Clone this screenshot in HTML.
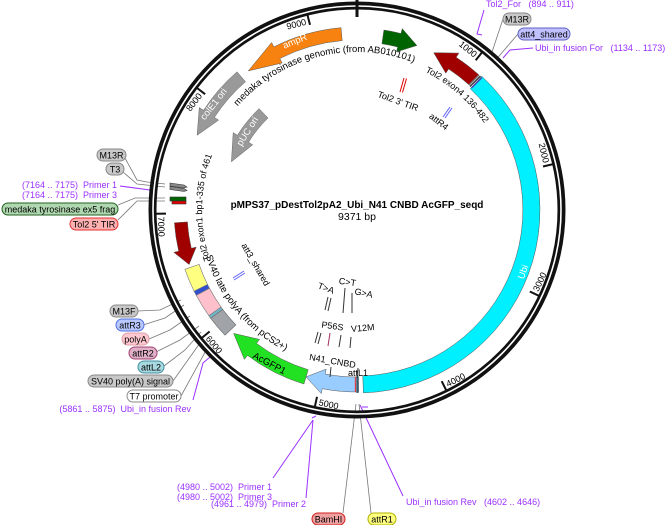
<!DOCTYPE html>
<html><head><meta charset="utf-8"><style>
html,body{margin:0;padding:0;background:#fff;}
svg{display:block;font-family:"Liberation Sans",Arial,sans-serif;}
svg text{white-space:pre;}
.l{font-size:9px;fill:#000;}
.p{font-size:9px;fill:#9b30ff;}
.t{font-size:9.5px;fill:#000;}
.w{font-size:9.5px;fill:#fff;}
</style></head><body>
<svg width="669" height="525" viewBox="0 0 669 525" xmlns="http://www.w3.org/2000/svg" xml:space="preserve">
<defs>
<path id="pMed" d="M229.2,117.1 A158,158 0 0 1 426.3,68.0"/>
<path id="pEx4" d="M412.2,66.2 A154,154 0 0 1 491.7,135.3"/>
<path id="pEx1" d="M215.4,273.0 A155,155 0 0 1 217.7,142.1"/>
<path id="pSV" d="M202.5,242.9 A158,158 0 0 0 297.8,356.5"/>
</defs>

<!-- leader lines -->
<g stroke="#777" stroke-width="0.8" fill="none">
<polyline points="125,158 137,180 147,182 165,184"/>
<polyline points="123,172 137,184 165,187"/>
<polyline points="118,205 135,198 165,198"/>
<polyline points="118,220 137,201 165,201"/>
<polyline points="138,311 160,310 181,300"/>
<polyline points="143,325 165,318 184,305"/>
<polyline points="149,339 170,330 190,316"/>
<polyline points="156,352 180,340 199,326"/>
<polyline points="164,366 185,350 201,332"/>
<polyline points="173,381 200,343"/>
<polyline points="181,396 209,345"/>
<polyline points="356,404 343,513"/>
<polyline points="359,404 371,513"/>
<polyline points="503,19 490,58"/>
<polyline points="518,34 494,62"/>
</g>
<g stroke="#9b30ff" stroke-width="1" fill="none">
<polyline points="120,186 150,190 155,191"/>
<polyline points="193,400 203,363 210,357"/>
<polyline points="273,478 313,420"/>
<polyline points="306,498 313,420"/>
<polyline points="360,405 403,496"/>
<polyline points="484,10 477,34 482,35"/>
<polyline points="533,48 510,50 503,58"/>
<polyline points="312,418 316,416"/>
<polyline points="362,407 368,407"/>
</g>

<!-- ring -->
<circle cx="357" cy="210" r="204.5" fill="none" stroke="#111" stroke-width="8"/>
<circle cx="357" cy="210" r="204.0" fill="none" stroke="#fff" stroke-width="1.6"/>
<line x1="357" y1="0" x2="357" y2="17" stroke="#111" stroke-width="3"/>
<g stroke="#111" stroke-width="2">
<line x1="482.5" y1="51.7" x2="475.7" y2="60.3"/>
<line x1="553.7" y1="164.0" x2="543.0" y2="166.5"/>
<line x1="539.7" y1="296.2" x2="529.8" y2="291.5"/>
<line x1="446.6" y1="391.1" x2="441.7" y2="381.2"/>
<line x1="314.7" y1="407.5" x2="317.0" y2="396.8"/>
<line x1="201.1" y1="338.5" x2="209.6" y2="331.5"/>
<line x1="155.0" y1="213.8" x2="166.0" y2="213.6"/>
<line x1="196.4" y1="87.5" x2="205.1" y2="94.2"/>
<line x1="307.3" y1="14.2" x2="310.0" y2="24.9"/>
</g>
<g class="l">
<text transform="translate(476.3,59.6) rotate(38.4)" x="-3" text-anchor="end">1000</text>
<text transform="translate(543.9,166.3) rotate(76.8)" x="-3" text-anchor="end">2000</text>
<text transform="translate(537.0,294.9) rotate(-64.75)" x="3">3000</text>
<text transform="translate(445.3,388.4) rotate(-26.3)" x="3">4000</text>
<text transform="translate(315.3,404.6) rotate(12.1)" x="3">5000</text>
<text transform="translate(203.4,336.6) rotate(50.5)" x="3">6000</text>
<text transform="translate(158.0,213.7) rotate(88.9)" x="3">7000</text>
<text transform="translate(204.3,93.6) rotate(-52.7)" x="-3" text-anchor="end">8000</text>
<text transform="translate(309.7,23.9) rotate(-14.25)" x="-3" text-anchor="end">9000</text>
</g>

<!-- features -->
<path d="M481.8,76.2 A183,183 0 0 1 363.4,392.9 L362.8,375.9 A166,166 0 0 0 470.2,88.7 Z" fill="#00f0ff" stroke="#555" stroke-width="0.5"/>
<path d="M478.8,74.8 A182,182 0 0 0 456.2,57.3 L458.9,53.1 L433.7,52.7 L445.8,73.2 L448.6,69.0 A168,168 0 0 1 469.4,85.2 Z" fill="#a00000" stroke="#555" stroke-width="0.5"/>
<g stroke-width="1.3"><line x1="479" y1="75" x2="469" y2="85" stroke="#777"/><line x1="480.5" y1="76" x2="470" y2="86.5" stroke="#333"/><line x1="482" y1="77.5" x2="471.5" y2="88" stroke="#4040c0"/></g>
<path d="M383.9,30.0 A182,182 0 0 1 401.0,33.5 L402.2,28.6 L416.9,45.5 L396.4,51.9 L397.7,47.0 A168,168 0 0 0 381.9,43.8 Z" fill="#006400" stroke="#555" stroke-width="0.5"/>
<path d="M341.0,27.7 A183,183 0 0 0 273.9,46.9 L271.6,42.5 L248.3,70.9 L282.1,63.0 L279.8,58.5 A170,170 0 0 1 342.2,40.6 Z" fill="#f7820f" stroke="#555" stroke-width="0.5"/>
<path d="M237.0,71.8 A183,183 0 0 0 203.5,110.3 L199.3,107.5 L197.1,135.3 L218.6,120.1 L214.4,117.4 A170,170 0 0 1 245.5,81.7 Z" fill="#999" stroke="#666" stroke-width="0.5"/>
<path d="M259.0,108.6 A141,141 0 0 0 237.4,135.3 L233.2,132.6 L231.4,161.8 L252.7,144.8 L248.5,142.2 A128,128 0 0 1 268.0,118.0 Z" fill="#999" stroke="#666" stroke-width="0.5"/>
<path d="M174.4,222.8 A183,183 0 0 0 178.7,251.2 L173.8,252.3 L189.1,264.5 L196.2,247.1 L191.3,248.3 A170,170 0 0 1 187.4,221.9 Z" fill="#a00000" stroke="#555" stroke-width="0.5"/>
<!-- SV40 blocks -->
<path d="M184.9,269.3 A182,182 0 0 0 194.1,291.2 L207.5,284.5 A167,167 0 0 1 199.1,264.4 Z" fill="#ffff80" stroke="#777" stroke-width="0.6"/>
<path d="M194.1,291.2 A182,182 0 0 0 196.3,295.4 L209.5,288.3 A167,167 0 0 1 207.5,284.5 Z" fill="#3050d0" stroke="#777" stroke-width="0.6"/>
<path d="M196.3,295.4 A182,182 0 0 0 208.9,315.7 L221.1,307.0 A167,167 0 0 1 209.5,288.3 Z" fill="#ffc0cb" stroke="#777" stroke-width="0.6"/>
<path d="M208.9,315.7 A182,182 0 0 0 210.7,318.3 L222.7,309.4 A167,167 0 0 1 221.1,307.0 Z" fill="#70b8c8" stroke="#777" stroke-width="0.6"/>
<path d="M210.7,318.3 A182,182 0 0 0 225.0,335.2 L235.9,324.9 A167,167 0 0 1 222.7,309.4 Z" fill="#a0a4a8" stroke="#666" stroke-width="0.6"/>
<path d="M303.9,384.0 A182,182 0 0 1 247.4,355.4 L244.4,359.4 L233.6,333.4 L259.5,339.4 L256.5,343.4 A167,167 0 0 0 308.2,369.7 Z" fill="#22e022" stroke="#555" stroke-width="0.5"/>
<path d="M358.6,392.0 A182,182 0 0 1 322.2,388.7 L321.3,393.6 L306.0,376.9 L326.1,369.1 L325.1,374.0 A167,167 0 0 0 358.5,377.0 Z" fill="#99ccff" stroke="#555" stroke-width="0.5"/>
<line x1="355.5" y1="377" x2="355.5" y2="392" stroke="#e04040" stroke-width="1.3"/>
<line x1="357.5" y1="376" x2="357.5" y2="393" stroke="#306070" stroke-width="2"/>
<!-- small left features -->
<g stroke="#333" stroke-width="0.6">
<path d="M170,183 L184,185 L187,187 L184,188 L170,186 Z" fill="#888"/>
<path d="M170,186.5 L184,188.5 L187,190.5 L184,191.5 L170,189.5 Z" fill="#888"/>
<rect x="170" y="197" width="16" height="4" fill="#006400"/>
<rect x="172" y="201" width="14" height="3" fill="#e00000"/>
</g>

<!-- inner marks -->
<g stroke-width="1">
<line x1="400" y1="92" x2="404" y2="78" stroke="#e00000"/><line x1="402.5" y1="92.5" x2="406.5" y2="78.5" stroke="#e00000"/>
<line x1="443" y1="117" x2="450" y2="107" stroke="#6060ff"/><line x1="445" y1="118" x2="452" y2="108" stroke="#6060ff"/>
<line x1="233" y1="278" x2="244" y2="271" stroke="#6060ff"/><line x1="234" y1="280" x2="245" y2="273" stroke="#6060ff"/>
<g stroke="#333"><line x1="325" y1="310" x2="328" y2="297"/><line x1="328" y1="311" x2="331" y2="298"/>
<line x1="343" y1="313" x2="345" y2="288"/><line x1="352" y1="313" x2="352" y2="293"/>
<line x1="315" y1="343" x2="318" y2="332"/><line x1="318" y1="344" x2="321" y2="333"/>
<line x1="339" y1="347" x2="341" y2="335"/><line x1="350" y1="348" x2="351" y2="337"/>
<line x1="330" y1="377" x2="331" y2="367"/><line x1="357" y1="378" x2="358" y2="368"/></g>
<line x1="328" y1="346" x2="330" y2="333" stroke="#a03060"/>
</g>

<!-- curved labels -->
<text class="t"><textPath href="#pMed" startOffset="50%" text-anchor="middle">medaka tyrosinase genomic (from AB010101)</textPath></text>
<text class="l"><textPath href="#pEx4" startOffset="50%" text-anchor="middle">Tol2 exon4 136-482</textPath></text>
<text class="l"><textPath href="#pEx1" startOffset="50%" text-anchor="middle">Tol2 exon1 bp1-335 of 461</textPath></text>
<text class="t"><textPath href="#pSV" startOffset="50%" text-anchor="middle">SV40 late polyA (from pCS2+)</textPath></text>

<text class="w" transform="translate(296,44) rotate(-22)" text-anchor="middle">ampR</text>
<text class="w" transform="translate(216,106) rotate(-52)" text-anchor="middle">colE1 ori</text>
<text class="w" transform="translate(250,133) rotate(-58)" text-anchor="middle">pUC ori</text>
<text class="w" transform="translate(526,273) rotate(-70)" text-anchor="middle">Ubi</text>
<text class="t" transform="translate(268,366) rotate(28)" text-anchor="middle">AcGFP1</text>

<g class="l">
<text transform="translate(397,104) rotate(20)" text-anchor="middle">Tol2 3' TIR</text>
<text transform="translate(437,124) rotate(38)" text-anchor="middle">attR4</text>
<text transform="translate(253,266) rotate(60)" text-anchor="middle">att3_shared</text>
<text transform="translate(325,291) rotate(20)" text-anchor="middle">T&gt;A</text>
<text transform="translate(347,285) rotate(8)" text-anchor="middle">C&gt;T</text>
<text transform="translate(363,296) rotate(12)" text-anchor="middle">G&gt;A</text>
<text transform="translate(332,329) rotate(8)" text-anchor="middle">P56S</text>
<text transform="translate(363,331) rotate(-5)" text-anchor="middle">V12M</text>
<text transform="translate(332,364) rotate(10)" text-anchor="middle">N41_CNBD</text>
<text x="358" y="376" text-anchor="middle">attL1</text>
</g>

<text x="357" y="208" text-anchor="middle" style="font-size:10px;font-weight:bold">pMPS37_pDestTol2pA2_Ubi_N41 CNBD AcGFP_seqd</text>
<text x="357" y="220" text-anchor="middle" style="font-size:10.5px">9371 bp</text>

<!-- pills -->
<g stroke-width="1">
<rect x="97" y="149" width="29" height="12" rx="6" fill="#c8c8c8" stroke="#888"/>
<rect x="106" y="163" width="18" height="12" rx="6" fill="#c8c8c8" stroke="#888"/>
<rect x="2" y="203" width="116" height="12" rx="6" fill="#b0d8b0" stroke="#206020"/>
<rect x="70" y="218" width="48" height="12" rx="6" fill="#ffb0b0" stroke="#e03030"/>
<rect x="110" y="305" width="28" height="12" rx="6" fill="#c8c8c8" stroke="#888"/>
<rect x="116" y="319" width="28" height="12" rx="6" fill="#b8c8ff" stroke="#5070e0"/>
<rect x="122" y="333" width="27" height="12" rx="6" fill="#ffc8d0" stroke="#e0a0a8"/>
<rect x="129" y="347" width="28" height="12" rx="6" fill="#e0b0c8" stroke="#a04070"/>
<rect x="138" y="361" width="26" height="12" rx="6" fill="#a8d8e0" stroke="#4090a0"/>
<rect x="88" y="375" width="85" height="12" rx="6" fill="#c8c8c8" stroke="#888"/>
<rect x="127" y="390" width="54" height="12" rx="6" fill="#fff" stroke="#888"/>
<rect x="312" y="513" width="33" height="12" rx="6" fill="#f0a0a0" stroke="#d02020"/>
<rect x="368" y="513" width="28" height="12" rx="6" fill="#ffff80" stroke="#b0b000"/>
<rect x="503" y="13" width="28" height="12" rx="6" fill="#c8c8c8" stroke="#888"/>
<rect x="518" y="28" width="52" height="12" rx="6" fill="#c0c0ff" stroke="#6060c0"/>
</g>
<g class="l" text-anchor="middle">
<text x="111.5" y="158.5">M13R</text>
<text x="115" y="172.5">T3</text>
<text x="60" y="212.5">medaka tyrosinase ex5 frag</text>
<text x="94" y="227.5">Tol2 5' TIR</text>
<text x="124" y="314.5">M13F</text>
<text x="130" y="328.5">attR3</text>
<text x="135.5" y="342.5">polyA</text>
<text x="143" y="356.5">attR2</text>
<text x="151" y="370.5">attL2</text>
<text x="130.5" y="384.5">SV40 poly(A) signal</text>
<text x="154" y="399.5">T7 promoter</text>
<text x="328.5" y="522.5">BamHI</text>
<text x="382" y="522.5">attR1</text>
<text x="517" y="22.5">M13R</text>
<text x="544" y="37.5">att4_shared</text>
</g>
<g class="p">
<text x="117" y="188" text-anchor="end">(7164 .. 7175)  Primer 1</text>
<text x="117" y="198" text-anchor="end">(7164 .. 7175)  Primer 3</text>
<text x="191" y="412" text-anchor="end">(5861 .. 5875)  Ubi_in fusion Rev</text>
<text x="272" y="490" text-anchor="end">(4980 .. 5002)  Primer 1</text>
<text x="272" y="500" text-anchor="end">(4980 .. 5002)  Primer 3</text>
<text x="306" y="507" text-anchor="end">(4961 .. 4979)  Primer 2</text>
<text x="406" y="505">Ubi_in fusion Rev   (4602 .. 4646)</text>
<text x="486" y="7">Tol2_For   (894 .. 911)</text>
<text x="535" y="51">Ubi_in fusion For   (1134 .. 1173)</text>
</g>
</svg>
</body></html>
